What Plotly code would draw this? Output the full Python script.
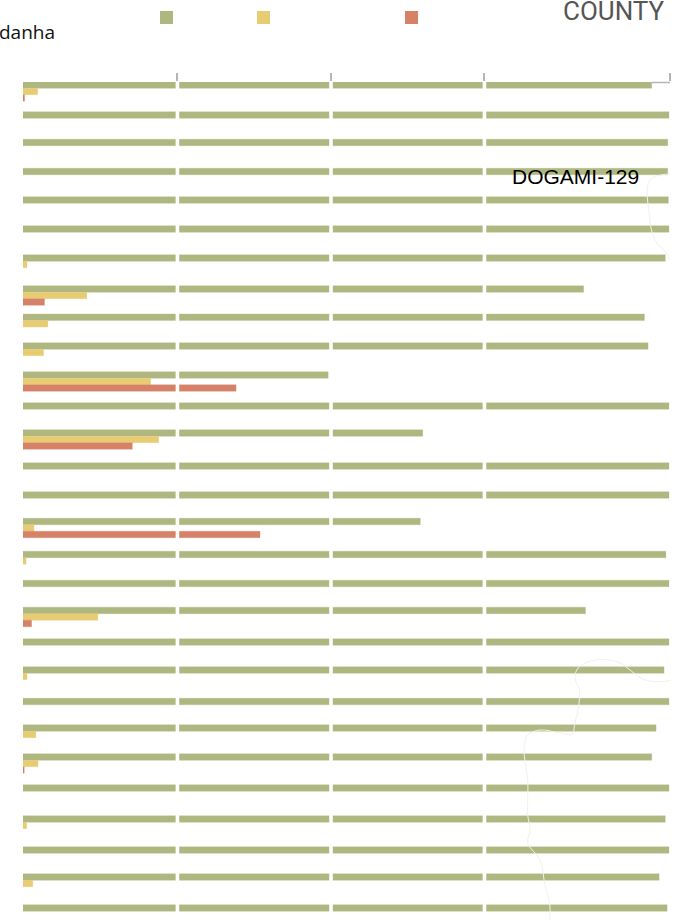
import plotly.graph_objects as go

# Values, on the scale of the axis ticks
green_values = [102.4, 105.2, 105.0, 105.0, 105.1, 105.2, 104.6, 91.3, 101.2, 101.8,
                49.7, 105.2, 65.1, 105.2, 105.2, 64.7, 104.7, 105.2, 91.6, 105.2,
                104.4, 105.2, 103.1, 102.4, 105.2, 104.6, 105.2, 103.6, 104.9]
yellow_values = [2.4, None, None, None, None, None, 0.65, 10.4, 4.05, 3.35,
                 20.8, None, 22.1, None, None, 1.8, 0.5, None, 12.2, None,
                 0.65, None, 2.1, 2.45, None, 0.6, None, 1.6, None]
red_values = [0.25, None, None, None, None, None, None, 3.5, None, None,
              34.7, None, 17.8, None, None, 38.6, None, None, 1.4, None,
              None, None, None, 0.2, None, None, None, None, None]
# The rows are unevenly spaced in the reference
row_position = [85, 115, 142.5, 171.5, 200, 229, 258, 289, 317.3, 346,
                375, 406, 433, 466, 495, 521.5, 554.5, 583.5, 610.5, 642,
                670, 701.5, 728, 757, 788, 819, 850, 877, 908]
tick_values = [25.15, 50.16, 75.15, 105.37]

# Faint map outline behind the bars
outline_a_x = [108.0, 106.2, 102.1, 102.0, 102.9, 105.0, 106.2, 108.0]
outline_a_y = [165, 172, 180, 215, 240, 255, 270, 280]
outline_b_x = [107.3, 105.0, 101.3, 99.7, 96.9, 93.2, 90.4, 89.9, 90.6, 90.4, 89.9, 89.4,
               87.5, 84.2, 82.2, 81.6, 82.2, 82.2, 82.6, 82.2, 84.2, 85.0, 85.8, 85.8]
outline_b_y = [674, 681, 680, 674, 662, 660, 668, 678, 690, 710, 722, 734,
               733, 730, 735, 750, 780, 815, 830, 843, 860, 885, 905, 920]

GREEN, YELLOW, RED = "#AFB780", "#E8CC74", "#D58268"
AXIS = "#B4B4BC"
BAR = 6.5
W, H, L, R, T = 686, 920, 23, 16, 82
PW, PH = W - L - R, H - T


def px(x):
    return (x - L) / PW


def py(y):
    return (H - y) / PH


fig = go.Figure()
for xs, ys in ((outline_a_x, outline_a_y), (outline_b_x, outline_b_y)):
    fig.add_trace(go.Scatter(x=xs, y=ys, mode="lines", cliponaxis=False, hoverinfo="skip",
                             line=dict(color="#F6EFEB", width=1, shape="spline")))

for k, (name, vals, col, edge) in enumerate((
        ("Green", green_values, GREEN, "rgba(175,183,128,0.3)"),
        ("Yellow", yellow_values, YELLOW, "rgba(232,204,116,0.3)"),
        ("Red", red_values, RED, "rgba(213,130,104,0.3)"))):
    fig.add_trace(go.Bar(x=vals, y=[r + k * BAR for r in row_position], width=BAR,
                         orientation="h", name=name, cliponaxis=False,
                         marker=dict(color=col, line=dict(color=edge, width=1))))

shapes = [dict(type="line", xref="x", yref="paper", x0=v, x1=v, y0=0, y1=1,
               line=dict(color="white", width=3.6), layer="above") for v in tick_values[:3]]
shapes.append(dict(type="line", xref="x", yref="paper", x0=green_values[0], x1=tick_values[-1],
                   y0=py(82.5), y1=py(82.5), line=dict(color=AXIS, width=1.5), layer="above"))
for x0, col in ((160, GREEN), (257, YELLOW), (405, RED)):
    shapes.append(dict(type="rect", xref="paper", yref="paper", x0=px(x0), x1=px(x0 + 13),
                       y0=py(24), y1=py(11), fillcolor=col, line=dict(width=0), layer="above"))

annotations = [
    dict(text="danha", xref="paper", yref="paper", x=px(56.5), y=py(32), xanchor="right",
         yanchor="middle", showarrow=False, font=dict(family="Open Sans", size=19, color="#111111")),
    dict(text="COUNTY", xref="paper", yref="paper", x=px(667), y=py(11), xanchor="right",
         yanchor="middle", showarrow=False,
         font=dict(family="Roboto", size=26, color="#555555")),
    dict(text="DOGAMI-129", xref="paper", yref="paper", x=px(510), y=py(177), xanchor="left",
         yanchor="middle", showarrow=False, font=dict(family="Liberation Sans", size=21, color="black")),
]

fig.update_layout(
    width=W, height=H, autosize=False, paper_bgcolor="white", plot_bgcolor="white",
    margin=dict(l=L, r=R, t=T, b=0, pad=0), barmode="overlay", showlegend=False,
    shapes=shapes, annotations=annotations,
    xaxis=dict(range=[0, tick_values[-1]], side="top", tickmode="array", tickvals=tick_values,
               showticklabels=False, ticks="outside", ticklen=8, tickwidth=2, tickcolor=AXIS,
               showgrid=False, zeroline=False, showline=False),
    yaxis=dict(range=[H, T], visible=False),
)

fig.write_html("out.html", config={"displayModeBar": False},
               post_script="document.body.style.margin='0';document.body.style.overflow='hidden';")
